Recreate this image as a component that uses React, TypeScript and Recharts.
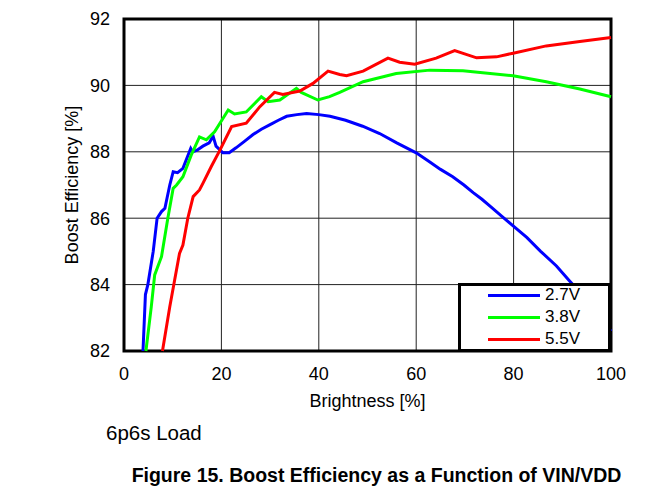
import React from "react"
import { LineChart, Line, XAxis, YAxis, CartesianGrid, Legend, ReferenceArea, Label } from "recharts"

// brightness [%], efficiency [%]
const vin27: [number, number][] = [
  [3.9, 82.0], [4.4, 83.7], [4.9, 84.0], [6.0, 85.0], [6.8, 86.0], [7.7, 86.2], [8.4, 86.3],
  [9.4, 87.0], [10.1, 87.4], [11.0, 87.37], [12.1, 87.5], [13.7, 88.1], [14.1, 88.0],
  [15.0, 88.05], [16.2, 88.17], [17.5, 88.27], [18.3, 88.47], [18.9, 88.17], [20.3, 87.97],
  [21.6, 87.97], [23.0, 88.12], [24.6, 88.3], [26.5, 88.52], [28.2, 88.68], [30.0, 88.82],
  [31.7, 88.95], [33.4, 89.07], [35.5, 89.12], [37.5, 89.15], [40.0, 89.12], [42.3, 89.07],
  [45.5, 88.95], [49.0, 88.77], [52.5, 88.55], [56.0, 88.27], [60.0, 87.97], [62.5, 87.72],
  [65.0, 87.47], [67.5, 87.25], [69.8, 87.0], [71.7, 86.77], [73.5, 86.57], [75.1, 86.37],
  [77.9, 86.02], [79.9, 85.77], [82.7, 85.42], [85.5, 85.01], [88.8, 84.56], [91.5, 84.11],
  [94.0, 83.7], [97.0, 83.15], [100, 82.6],
]

const vin38: [number, number][] = [
  [4.5, 82.0], [5.6, 83.33], [6.3, 84.29], [7.7, 84.84], [9.0, 86.0], [10.1, 86.9],
  [10.8, 87.0], [12.1, 87.25], [13.8, 87.9], [15.5, 88.45], [16.9, 88.36], [18.6, 88.6],
  [21.4, 89.26], [22.7, 89.14], [25.1, 89.2], [28.2, 89.66], [29.6, 89.51], [32.0, 89.56],
  [35.4, 89.91], [36.4, 89.79], [39.8, 89.56], [42.2, 89.66], [44.3, 89.79], [49.1, 90.11],
  [55.9, 90.36], [62.8, 90.46], [69.6, 90.44], [79.9, 90.29], [86.7, 90.11], [93.6, 89.89],
  [100, 89.66],
]

const vin55: [number, number][] = [
  [7.9, 82.0], [9.4, 83.33], [10.4, 84.14], [11.4, 84.94], [12.1, 85.19], [13.1, 86.0],
  [14.2, 86.65], [15.5, 86.85], [16.2, 87.05], [17.9, 87.55], [19.7, 88.05], [22.1, 88.76],
  [25.1, 88.86], [27.9, 89.36], [30.9, 89.79], [32.6, 89.73], [36.1, 89.83], [38.8, 90.06],
  [41.9, 90.43], [44.3, 90.33], [45.7, 90.29], [49.1, 90.43], [54.2, 90.82], [56.6, 90.7],
  [59.7, 90.64], [64.1, 90.82], [67.9, 91.05], [72.4, 90.83], [76.5, 90.86], [79.9, 90.97],
  [86.7, 91.19], [93.6, 91.32], [100, 91.44],
]

const xTicks = [0, 20, 40, 60, 80, 100]
const yTicks = [82, 84, 86, 88, 90, 92]

const series = [
  { name: "2.7V", color: "#0000ff", points: vin27 },
  { name: "3.8V", color: "#00ff00", points: vin38 },
  { name: "5.5V", color: "#ff0000", points: vin55 },
]

const font = "'Liberation Sans', Arial, sans-serif"
const tickStyle = { fontSize: 18, fill: "#000", fontFamily: font }

const LegendBox = ({ payload }: any) => (
  <div
    style={{
      boxSizing: "border-box",
      width: 153,
      height: 69,
      border: "3px solid #000",
      background: "#fff",
      fontFamily: font,
      fontSize: 17,
      color: "#000",
    }}
  >
    <div style={{ marginTop: -2 }}>
      {(payload || []).map((entry: any) => (
        <div key={entry.value} style={{ display: "flex", alignItems: "center", height: 22 }}>
          <span style={{ display: "inline-block", marginLeft: 27, width: 52, height: 3, background: entry.color }} />
          <span style={{ marginLeft: 5, lineHeight: "22px" }}>{entry.value}</span>
        </div>
      ))}
    </div>
  </div>
)

export default function App() {
  return (
    <div style={{ position: "absolute", left: 0, top: 0, width: 669, height: 487, background: "#fff", fontFamily: font }}>
      <LineChart width={669} height={420} margin={{ top: 19, right: 58, left: 64, bottom: 9 }}>
        <CartesianGrid stroke="#222" strokeWidth={1} />
        <XAxis
          type="number"
          dataKey="b"
          domain={[0, 100]}
          ticks={xTicks}
          axisLine={false}
          tickLine={false}
          tickSize={0}
          tickMargin={16}
          height={60}
          tick={tickStyle}
        >
          <Label value="Brightness [%]" position="insideBottom" offset={4} style={{ fontSize: 18, fill: "#000", fontFamily: font }} />
        </XAxis>
        <YAxis
          type="number"
          domain={[82, 92]}
          ticks={yTicks}
          axisLine={false}
          tickLine={false}
          tickSize={0}
          tickMargin={14}
          width={60}
          tick={tickStyle}
        >
          <Label
            value="Boost Efficiency [%]"
            angle={-90}
            position="insideLeft"
            offset={8}
            textAnchor="middle"
            style={{ fontSize: 18, fill: "#000", fontFamily: font }}
          />
        </YAxis>
        {series.map((s) => (
          <Line
            key={s.name}
            name={s.name}
            data={s.points.map(([b, v]) => ({ b, v }))}
            dataKey="v"
            type="linear"
            stroke={s.color}
            strokeWidth={3}
            dot={false}
            activeDot={false}
            isAnimationActive={false}
          />
        ))}
        <ReferenceArea x1={0} x2={100} y1={82} y2={92} fill="none" stroke="#000" strokeWidth={3} />
        <Legend
          layout="vertical"
          align="center"
          verticalAlign="middle"
          content={<LegendBox />}
          wrapperStyle={{ position: "absolute", left: 458, top: 283, width: 153, height: 69, margin: 0 }}
        />
      </LineChart>
      <div style={{ position: "absolute", left: 106, top: 423, fontSize: 20.5, lineHeight: 1, color: "#000" }}>6p6s Load</div>
      <div
        style={{
          position: "absolute",
          left: 0,
          width: 753,
          top: 466,
          textAlign: "center",
          fontSize: 19.5,
          lineHeight: 1,
          fontWeight: "bold",
          color: "#000",
        }}
      >
        Figure 15. Boost Efficiency as a Function of VIN/VDD
      </div>
    </div>
  )
}
